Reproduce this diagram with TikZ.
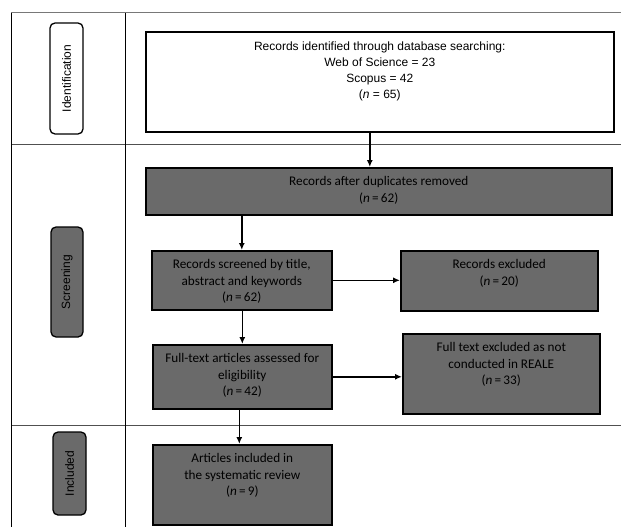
\documentclass[tikz,border=0pt]{standalone}
\usepackage{fontspec}
\setmainfont{Liberation Sans}
\newfontfamily\carl{Carlito}
\usetikzlibrary{arrows.meta}
\definecolor{boxgray}{RGB}{106,106,106}
\definecolor{rulegray}{RGB}{120,120,120}
\definecolor{rowgray}{RGB}{80,80,80}
\begin{document}
\begin{tikzpicture}[x=1pt,y=-1pt,
  box/.style={draw=black, line width=1.6pt, fill=boxgray, inner sep=0pt, anchor=north west},
  wbox/.style={box, fill=white},
  txt/.style={anchor=north, align=center, inner sep=0pt, font=\carl\fontsize{13.2}{16.5}\selectfont},
  wtxt/.style={anchor=north, align=center, inner sep=0pt, font=\fontsize{12}{16}\selectfont},
  tag/.style={draw=black, line width=1.3pt, rounded corners=5pt, fill=boxgray, rotate=90, inner sep=0pt, font=\fontsize{12}{14}\selectfont},
  wtag/.style={tag, fill=white},
  arr/.style={-{Latex[length=7pt,width=6pt]}, line width=1.5pt},
  rule/.style={line width=1pt}
]
\useasboundingbox (0,0) rectangle (621,527);

% table rules
\draw[rule, draw=rulegray] (11,13) -- (621,13);
\draw[rule, draw=rowgray] (11,144) -- (621,144);
\draw[rule, draw=rowgray] (11,425) -- (621,425);
\draw[rule] (11,13) -- (11,527);
\draw[rule] (125,13) -- (125,527);

% stage tags
\node[wtag, minimum width=111pt, minimum height=33pt] (tid) at (66.5,78.5) {Identification};
\node[tag, minimum width=110pt, minimum height=32pt] (tsc) at (67,282) {Screening};
\node[tag, minimum width=83pt, minimum height=33pt] (tin) at (69.5,473.5) {Included};

% boxes
\node[wbox, minimum width=468pt, minimum height=100pt] (b1) at (145,31) {};
\node[box, minimum width=466pt, minimum height=47pt] (b2) at (145,167) {};
\node[box, minimum width=180pt, minimum height=59pt] (b3) at (151,250) {};
\node[box, minimum width=197pt, minimum height=60pt] (b4) at (400,250) {};
\node[box, minimum width=179pt, minimum height=64pt] (b5) at (152,344) {};
\node[box, minimum width=197pt, minimum height=80pt] (b6) at (402,333) {};
\node[box, minimum width=179pt, minimum height=80pt] (b7) at (152,444) {};

% texts
\node[wtxt] (x1) at ([yshift=-10.5pt]b1.north) {Records identified through database searching:\\Web of Science = 23\\Scopus = 42\\(\textit{n} = 65)};
\node[txt] (x2) at ([yshift=-9.5pt]b2.north) {Records after duplicates removed\\(\textit{n}\,=\,62)};
\node[txt] (x3) at ([yshift=-9.5pt]b3.north) {Records screened by title,\\abstract and keywords\\(\textit{n}\,=\,62)};
\node[txt] (x4) at ([yshift=-9.5pt]b4.north) {Records excluded\\(\textit{n}\,=\,20)};
\node[txt] (x5) at ([yshift=-9.5pt]b5.north) {Full-text articles assessed for\\eligibility\\(\textit{n}\,=\,42)};
\node[txt] (x6) at ([yshift=-9.5pt]b6.north) {Full text excluded as not\\conducted in REALE\\(\textit{n}\,=\,33)};
\node[txt] (x7) at ([yshift=-9.5pt]b7.north) {Articles included in\\the systematic review\\(\textit{n}\,=\,9)};

% arrows
\draw[arr] ([xshift=-10pt]b1.south) -- ([xshift=-10pt]b1.south |- b2.north);
\draw[arr] (b3.north |- b2.south) -- (b3.north);
\draw[arr] (b3.east) -- (b4.west |- b3.east);
\draw[arr] (b5.north |- b3.south) -- (b5.north);
\draw[arr] (b5.east) -- (b6.west |- b5.east);
\draw[arr] ([xshift=-3pt]b5.south) -- ([xshift=-3pt]b7.north);
\end{tikzpicture}
\end{document}
